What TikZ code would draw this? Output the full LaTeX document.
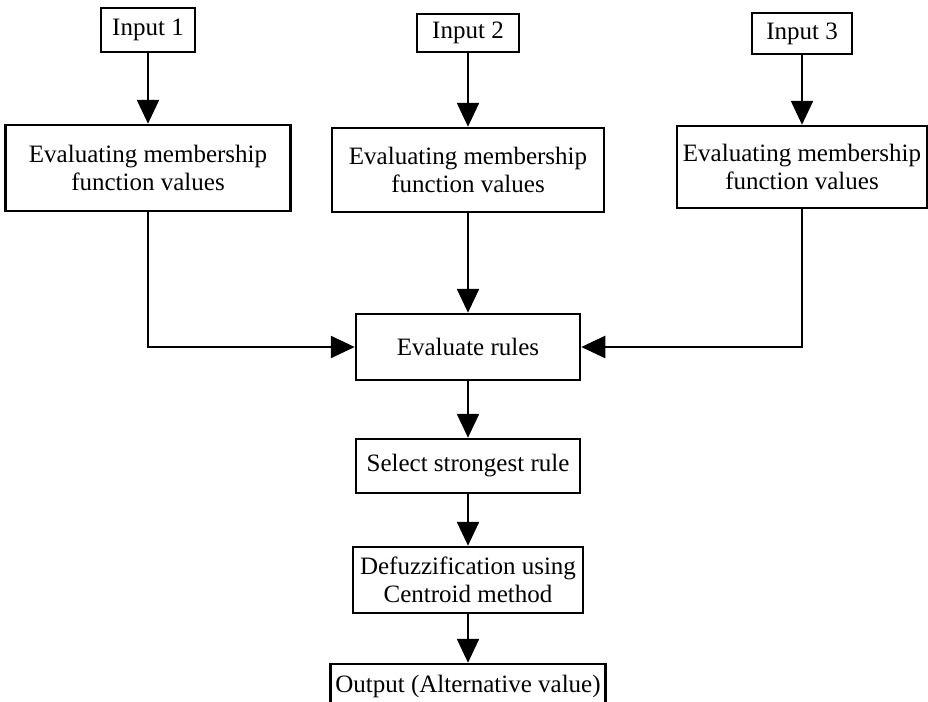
\documentclass[tikz,border=0pt]{standalone}
\usepackage{fontspec}
\setmainfont{Liberation Serif}
\usetikzlibrary{arrows.meta}

\tikzset{
		box/.style={draw, line width=2.5pt, align=center, inner sep=2pt, font=\fontsize{25}{28}\selectfont},
		arrow/.style={line width=2.5pt, -{Triangle[width=22pt,length=24pt]}}
	}

\begin{document}
\begin{tikzpicture}[x=1pt,y=1pt]
\useasboundingbox (0,0) rectangle (928,-701);
\clip (0,0) rectangle (928,-701);

% inputs
\node (in1) at (148,-30) [box,minimum width=94pt,minimum height=44pt] {Input 1};
\node (in2) at (468,-33) [box,minimum width=102pt,minimum height=38pt] {Input 2};
\node (in3) at (802,-33.5) [box,minimum width=100pt,minimum height=41pt] {Input 3};

% membership
\node (ev1) at (148,-168) [box,minimum width=285pt,minimum height=86pt] {Evaluating membership\\function values};
\node (ev2) at (468,-170) [box,minimum width=272pt,minimum height=84pt] {Evaluating membership\\function values};
\node (ev3) at (802,-167) [box,minimum width=250pt,minimum height=82pt] {Evaluating membership\\function values};

% rule chain
\node (rules) at (468,-347) [box,minimum width=224pt,minimum height=66pt] {Evaluate rules};
\node (sel) at (468,-466) [box,minimum width=224pt,minimum height=54pt] {Select strongest rule};
\node (defuz) at (468,-580) [box,minimum width=230pt,minimum height=66pt] {Defuzzification using\\Centroid method};
\node (out) at (468,-686) [box,minimum width=275pt,minimum height=44pt] {Output (Alternative value)};

\draw [arrow] (in1) -- (ev1);
\draw [arrow] (in2) -- (ev2);
\draw [arrow] (in3) -- (ev3);

\draw [arrow] (ev1.south) |- (rules.west);
\draw [arrow] (ev2) -- (rules);
\draw [arrow] (ev3.south) |- (rules.east);

\draw [arrow] (rules) -- (sel);
\draw [arrow] (sel) -- (defuz);
\draw [arrow] (defuz) -- (out);

\end{tikzpicture}
\end{document}
